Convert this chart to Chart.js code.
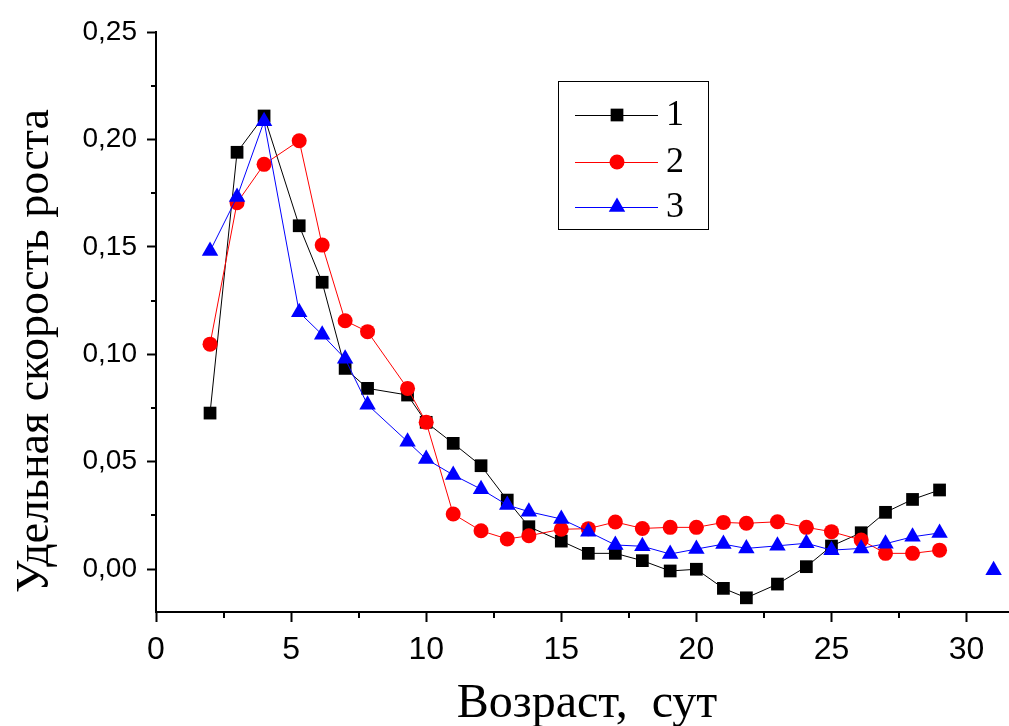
<!DOCTYPE html>
<html><head><meta charset="utf-8">
<script src="https://cdn.jsdelivr.net/npm/chart.js@4.4.1/dist/chart.umd.min.js"></script>
<style>html,body{margin:0;padding:0;background:#fff}canvas{display:block}</style>
</head><body>
<canvas id="c" width="1009" height="726"></canvas>
<script>
// ---- data ----
const days = [2, 3, 4, 5.3, 6.15, 7, 7.83, 9.31, 10, 11, 12.03, 13, 13.8, 15, 16, 17, 18, 19.03, 20, 21, 21.85, 23, 24.07, 25, 26.1, 27, 28, 29];
const series1 = [0.0726, 0.1940, 0.2109, 0.1598, 0.1335, 0.0934, 0.0841, 0.0810, 0.0683, 0.0585, 0.0481, 0.0321, 0.0197, 0.0130, 0.0073, 0.0073, 0.0039, -0.0009, -0.0001, -0.0090, -0.0134, -0.0070, 0.0011, 0.0107, 0.0169, 0.0264, 0.0324, 0.0368];
const series2 = [0.1047, 0.1705, 0.1884, 0.1994, 0.1508, 0.1156, 0.1105, 0.0841, 0.0683, 0.0256, 0.0178, 0.0140, 0.0155, 0.0185, 0.0188, 0.0219, 0.0189, 0.0194, 0.0194, 0.0217, 0.0213, 0.0220, 0.0194, 0.0174, 0.0135, 0.0073, 0.0073, 0.0088];
const days3 = [2, 3, 4, 5.3, 6.15, 7, 7.83, 9.31, 10, 11, 12.03, 13, 13.8, 15, 16, 17, 18, 19.03, 20, 21, 21.85, 23, 24.07, 25, 26.1, 27, 28, 29, 30, 31];
const series3 = [0.1480, 0.1732, 0.2084, 0.1195, 0.1091, 0.0979, 0.0765, 0.0593, 0.0512, 0.0438, 0.0372, 0.0298, 0.0267, 0.0233, 0.0174, 0.0112, 0.0106, 0.0070, 0.0093, 0.0116, 0.0096, 0.0108, 0.0120, 0.0088, 0.0096, 0.0118, 0.0150, 0.0168, null, -0.0006];
const seriesNames = ['1', '2', '3'];
const xTicks = [0, 5, 10, 15, 20, 25, 30];
const xMinorTicks = [2.5, 7.5, 12.5, 17.5, 22.5, 27.5];
const yTicks = [0, 0.05, 0.10, 0.15, 0.20, 0.25];
const yMinorTicks = [0.025, 0.075, 0.125, 0.175, 0.225];
const xTitle = 'Возраст,  сут';
const yTitle = 'Удельная скорость роста';

const toPts = (xs, ys) => xs.map((x, i) => ({x: x, y: ys[i]}));

const SERIF = '"Liberation Serif", "Times New Roman", serif';
const SANS = '"Liberation Sans", Arial, sans-serif';
const NARROW = '"Liberation Sans Narrow", "Arial Narrow", "Liberation Sans", sans-serif';

const deco = {
  id: 'deco',
  afterDraw(chart) {
    const ctx = chart.ctx;
    const xs = chart.scales.x, ys = chart.scales.y;
    const area = chart.chartArea;
    ctx.save();
    // minor ticks
    ctx.strokeStyle = '#000';
    ctx.lineWidth = 2;
    ctx.beginPath();
    xMinorTicks.forEach(v => {
      const px = Math.round(xs.getPixelForValue(v));
      ctx.moveTo(px, area.bottom);
      ctx.lineTo(px, area.bottom + 6);
    });
    yMinorTicks.forEach(v => {
      const py = Math.round(ys.getPixelForValue(v));
      ctx.moveTo(area.left, py);
      ctx.lineTo(area.left - 5, py);
    });
    ctx.stroke();

    // legend
    const lx = 558.5, ly = 81.5, lw = 150, lh = 148;
    ctx.lineWidth = 1;
    ctx.strokeStyle = '#000';
    ctx.strokeRect(lx, ly, lw, lh);
    const rows = [115, 162, 207];
    chart.data.datasets.forEach((ds, i) => {
      const y = rows[i];
      ctx.strokeStyle = ds.borderColor;
      ctx.lineWidth = 1;
      ctx.beginPath();
      ctx.moveTo(575, y + 0.5);
      ctx.lineTo(658, y + 0.5);
      ctx.stroke();
      ctx.fillStyle = ds.pointBackgroundColor;
      ctx.strokeStyle = ds.pointBackgroundColor;
      Chart.helpers.drawPoint(ctx, {pointStyle: ds.pointStyle, radius: ds.pointRadius, rotation: 0, borderWidth: 0}, 617, y);
      ctx.fillStyle = '#000';
      ctx.font = '36px ' + SERIF;
      ctx.textAlign = 'left';
      ctx.textBaseline = 'middle';
      ctx.fillText(seriesNames[i], 666, y + 1);
    });

    // axis titles
    ctx.fillStyle = '#000';
    ctx.font = '48px ' + SERIF;
    ctx.textAlign = 'center';
    ctx.textBaseline = 'alphabetic';
    ctx.fillText(xTitle, 587, 717);
    ctx.save();
    ctx.translate(48, 351);
    ctx.rotate(-Math.PI / 2);
    ctx.font = '46px ' + SERIF;
    ctx.fillText(yTitle, 0, 0);
    ctx.restore();
    ctx.restore();
  }
};

new Chart(document.getElementById('c'), {
  type: 'line',
  data: {
    datasets: [
      {label: seriesNames[0], data: toPts(days, series1), borderColor: '#000000', backgroundColor: '#000000', pointBackgroundColor: '#000000', borderWidth: 1, pointStyle: 'rect', pointRadius: 9, pointBorderWidth: 0, order: 3, tension: 0},
      {label: seriesNames[1], data: toPts(days, series2), borderColor: '#ff0000', backgroundColor: '#ff0000', pointBackgroundColor: '#ff0000', borderWidth: 1, pointStyle: 'circle', pointRadius: 7.5, pointBorderWidth: 0, order: 2, tension: 0},
      {label: seriesNames[2], data: toPts(days3, series3), borderColor: '#0000ff', backgroundColor: '#0000ff', pointBackgroundColor: '#0000ff', borderWidth: 1, pointStyle: 'triangle', pointRadius: 9.5, pointBorderWidth: 0, order: 1, tension: 0, spanGaps: false}
    ]
  },
  options: {
    responsive: false,
    animation: false,
    devicePixelRatio: 1,
    layout: {autoPadding: false, padding: {top: 32, left: 0, right: 0, bottom: 0}},
    plugins: {legend: {display: false}, tooltip: {enabled: false}},
    scales: {
      x: {
        type: 'linear', min: 0, max: 31.57,
        afterBuildTicks: s => { s.ticks = xTicks.map(v => ({value: v})); },
        afterFit: s => { s.height = 114; s.paddingRight = 0; s.paddingLeft = 0; },
        grid: {display: true, drawOnChartArea: false, drawTicks: true, tickLength: 10, tickWidth: 2, tickColor: '#000'},
        border: {display: true, color: '#000', width: 2},
        ticks: {color: '#000', font: {family: NARROW, size: 32}, padding: 9, maxRotation: 0, autoSkip: false, callback: v => String(v)}
      },
      y: {
        type: 'linear', min: -0.02, max: 0.25,
        afterBuildTicks: s => { s.ticks = yTicks.map(v => ({value: v})); },
        afterFit: s => { s.width = 156; },
        grid: {display: true, drawOnChartArea: false, drawTicks: true, tickLength: 9, tickWidth: 2, tickColor: '#000'},
        border: {display: true, color: '#000', width: 2},
        ticks: {color: '#000', font: {family: SANS, size: 28}, padding: 10, autoSkip: false, callback: v => v.toFixed(2).replace('.', ',')}
      }
    }
  },
  plugins: [deco]
});
</script>
</body></html>
